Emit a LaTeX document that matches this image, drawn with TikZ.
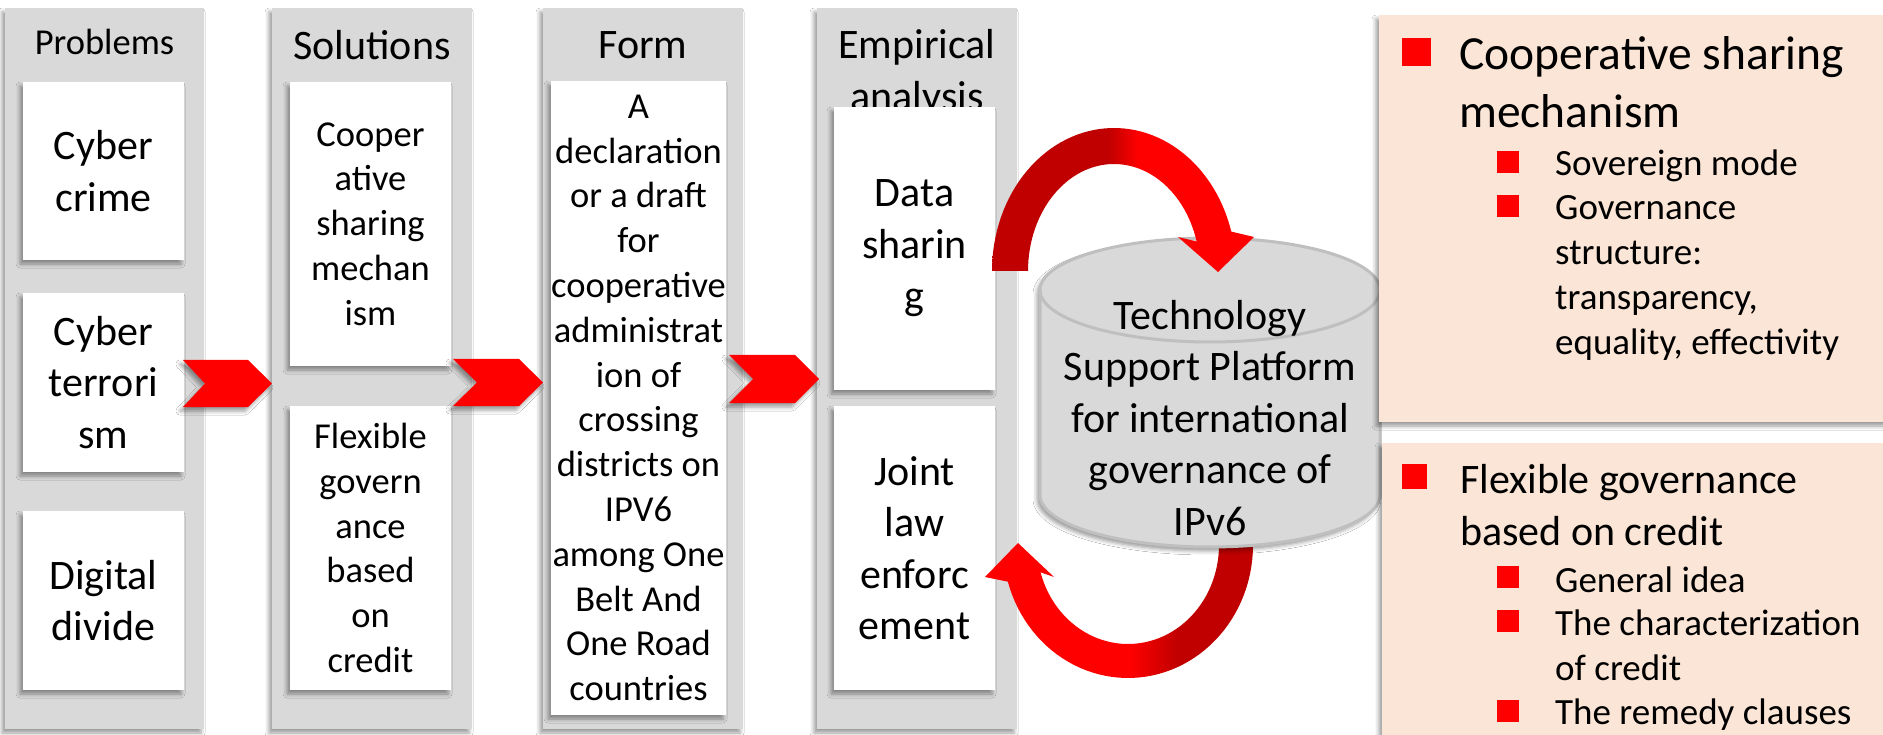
\documentclass[tikz,border=0pt]{standalone}
\usepackage{fontspec}
\setmainfont{Carlito}
\usetikzlibrary{shadows.blur}
\definecolor{colgray}{HTML}{D9D9D9}
\definecolor{peach}{HTML}{FBE5D6}
\definecolor{dred}{HTML}{C00000}
\definecolor{bred}{HTML}{FF0000}
\definecolor{cylb}{HTML}{BFBFBF}
\pgfdeclarehorizontalshading{topshade}{100bp}{color(0bp)=(dred); color(47bp)=(dred); color(53bp)=(bred); color(100bp)=(bred)}
\pgfdeclarehorizontalshading{botshade}{100bp}{color(0bp)=(bred); color(52bp)=(bred); color(61bp)=(dred); color(100bp)=(dred)}
\begin{document}
\begin{tikzpicture}[x=1pt,y=-1pt,
  shd/.style={blur shadow={shadow xshift=-3pt, shadow yshift=-4pt, shadow blur radius=4pt}},
  col/.style={fill=colgray, inner sep=0, outer sep=0, shd},
  wbox/.style={fill=white, inner sep=0, outer sep=0, align=center, shd},
  fbig/.style={font=\fontsize{42}{51.5}\selectfont},
  fmid/.style={font=\fontsize{36.5}{44.8}\selectfont},
  ttl/.style={anchor=base, inner sep=0, align=center, fbig},
  chev/.style={fill=bred, shd},
  cyl/.style={fill=colgray, draw=cylb, line width=3pt, shd},
  panel/.style={fill=peach, inner sep=0, outer sep=0, shd},
  bul/.style={fill=bred, inner sep=0, outer sep=0},
  hA/.style={anchor=base west, inner sep=0, font=\fontsize{47.5}{57}\selectfont},
  hB/.style={anchor=base west, inner sep=0, font=\fontsize{42}{52}\selectfont},
  sb/.style={anchor=base west, inner sep=0, font=\fontsize{37}{45}\selectfont}
]
\useasboundingbox (0,0) rectangle (1883,735);
\fill[white] (0,0) rectangle (1883,735);

% columns
\node[col, minimum width=199, minimum height=721] (cprob) at (104.5,368.5) {};
\node[col, minimum width=200, minimum height=721] (csol) at (372,368.5) {};
\node[col, minimum width=200, minimum height=721] (cform) at (643,368.5) {};
\node[col, minimum width=200, minimum height=721] (cemp) at (917,368.5) {};

% titles
\node[ttl, font=\fontsize{36.5}{44}\selectfont] (tprob) at (104.5,55) {Problems};
\node[ttl] (tsol) at (372,60) {Solutions};
\node[ttl] (tform) at (643,58.6) {Form};
\node[ttl] (temp) at (917,110.5) {Empirical\\analysis};

% boxes
\node[wbox, fbig, minimum width=161, minimum height=178] (p1) at (103.5,171) {Cyber\\crime};
\node[wbox, fbig, minimum width=161, minimum height=179] (p2) at (103.5,382.5) {Cyber\\terrori\\sm};
\node[wbox, fbig, minimum width=161, minimum height=179] (p3) at (103.5,600.5) {Digital\\divide};
\node[wbox, fmid, minimum width=161, minimum height=284] (s1) at (370.5,224) {Cooper\\ative\\sharing\\mechan\\ism};
\node[wbox, fmid, minimum width=161, minimum height=284] (s2) at (370.5,548) {Flexible\\govern\\ance\\based\\on\\credit};
\node[wbox, fmid, minimum width=175, minimum height=634] (f1) at (638.5,398) {A\\declaration\\or a draft\\for\\cooperative\\administrat\\ion of\\crossing\\districts on\\IPV6\\among One\\Belt And\\One Road\\countries};
\node[wbox, fbig, minimum width=161, minimum height=283] (e1) at (914.5,248.5) {Data\\sharin\\g};
\node[wbox, fbig, minimum width=161, minimum height=284] (e2) at (914.5,548) {Joint\\law\\enforc\\ement};

% chevrons
\fill[chev] (183,360) -- (248,360) -- (272,383.5) -- (248,407) -- (183,407) -- (205,383.5) -- cycle;
\fill[chev] (453,359) -- (519,359) -- (543,382.5) -- (519,406) -- (453,406) -- (477,382.5) -- cycle;
\fill[chev] (729,355) -- (795,355) -- (819,379) -- (795,403) -- (729,403) -- (753,379) -- cycle;

% bottom curved arrow
\shade[shading=botshade]
  (1216,519) -- (1249,511)
  -- plot[domain=-15:164, samples=60] ({1128+125*cos(\x)}, {545+133*sin(\x)})
  -- (985,577) -- (1018,543) -- (1054,577)
  -- plot[domain=164:-15, samples=60] ({1128+91*cos(\x)}, {545+99*sin(\x)})
  -- cycle;

% cylinder
\path[cyl] (1040,290) -- (1040,495)
  -- plot[domain=180:360, samples=60] ({1210+170*cos(\x)}, {495-52*sin(\x)})
  -- (1380,290)
  -- plot[domain=0:180, samples=60] ({1210+170*cos(\x)}, {290-52*sin(\x)})
  -- cycle;
\draw[draw=cylb, line width=3pt] plot[domain=180:360, samples=60] ({1210+170*cos(\x)}, {290-52*sin(\x)});
\node[fbig, align=center, inner sep=0] (plat) at (1210,418) {Technology\\Support Platform\\for international\\governance of\\IPv6};

% top curved arrow
\shade[shading=topshade]
  (1028,271) -- (992,271)
  -- plot[domain=180:16, samples=60] ({1114+122*cos(\x)}, {271-143*sin(\x)})
  -- (1254,237) -- (1218,272) -- (1178,237)
  -- plot[domain=16:180, samples=60] ({1114+86*cos(\x)}, {271-107*sin(\x)})
  -- cycle;

% right panels
\node[panel, minimum width=516, minimum height=407] (ptop) at (1637,218.5) {};
\node[panel, minimum width=513, minimum height=310] (pbot) at (1638.5,598) {};

\node[bul, minimum width=29, minimum height=28.5] (b1) at (1416.5,52) {};
\node[bul, minimum size=22] (b11) at (1508,162) {};
\node[bul, minimum size=22] (b12) at (1508,206.5) {};
\node[bul, minimum size=25] (b2) at (1414.5,476.5) {};
\node[bul, minimum size=22] (b21) at (1508,577) {};
\node[bul, minimum size=22] (b22) at (1508,620.5) {};
\node[bul, minimum size=22] (b23) at (1508,711) {};

\node[hA] (l1) at (1459,70) {Cooperative sharing};
\node[hA] (l2) at (1459,127.5) {mechanism};
\node[sb] (l3) at (1555,176) {Sovereign mode};
\node[sb] (l4) at (1555,220) {Governance};
\node[sb] (l5) at (1555,265) {structure:};
\node[sb] (l6) at (1555,310) {transparency,};
\node[sb] (l7) at (1555,355) {equality, effectivity};

\node[hB] (m1) at (1460,493) {Flexible governance};
\node[hB] (m2) at (1460,545) {based on credit};
\node[sb] (m3) at (1555,592) {General idea};
\node[sb] (m4) at (1555,635) {The characterization};
\node[sb] (m5) at (1555,680) {of credit};
\node[sb] (m6) at (1555,724) {The remedy clauses};
\end{tikzpicture}
\end{document}
